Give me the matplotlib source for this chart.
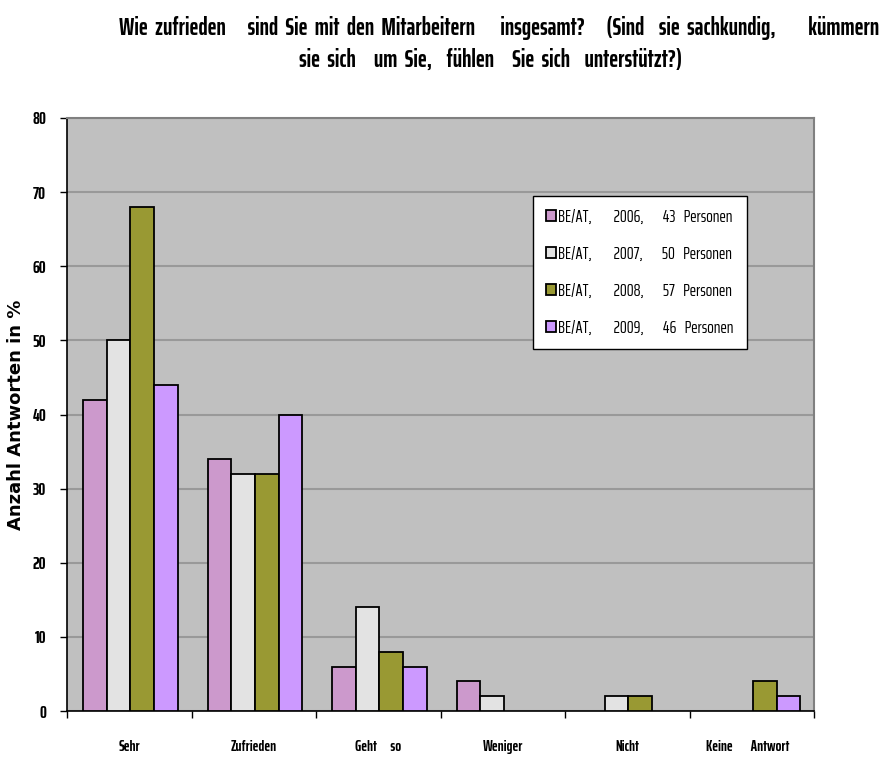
import matplotlib
matplotlib.use("Agg")
import matplotlib.pyplot as plt
from matplotlib.patches import Patch
import numpy as np

categories = ["Sehr", "Zufrieden", "Geht      so", "Weniger", "Nicht", "Keine        Antwort    "]
series_labels = ["BE/AT,        2006,       43   Personen",
                 "BE/AT,        2007,       50   Personen",
                 "BE/AT,        2008,       57   Personen",
                 "BE/AT,        2009,       46   Personen"]
v2006 = [42, 34, 6, 4, 0, 0]
v2007 = [50, 32, 14, 2, 2, 0]
v2008 = [68, 32, 8, 0, 2, 4]
v2009 = [44, 40, 6, 0, 0, 2]
colors = ["#CC99CC", "#E3E3E3", "#999933", "#CC99FF"]
yticks = [0, 10, 20, 30, 40, 50, 60, 70, 80]

narrow = ["Saira ExtraCondensed", "Roboto Condensed", "DejaVu Sans"]

fig = plt.figure(figsize=(8.85, 7.58), dpi=100)
ax = fig.add_axes([67/885, 1-711/758, (814-67)/885, (711-118)/758])
ax.set_facecolor("#C0C0C0")

x = np.arange(len(categories))
w = 0.19
allv = [v2006, v2007, v2008, v2009]
for i, (vals, c) in enumerate(zip(allv, colors)):
    xs = x + (i - 1.5) * w + 0.01
    mask = np.array(vals) > 0
    ax.bar(xs[mask], np.array(vals)[mask], width=w, color=c, edgecolor="black",
           linewidth=1.3, zorder=3)

ax.set_xlim(-0.5, len(categories) - 0.5)
ax.set_ylim(0, 80)
ax.set_yticks(yticks)
ax.yaxis.grid(True, color="#999999", linewidth=1.5, zorder=1)
ax.set_axisbelow(True)

ax.set_xticks(np.arange(len(categories) + 1) - 0.5)
ax.set_xticklabels([])
ax.set_xticks(x, minor=True)
ax.set_xticklabels(categories, minor=True, fontfamily=narrow, fontweight="bold", fontsize=11)
ax.tick_params(axis="x", which="minor", length=0, pad=21)
ax.tick_params(axis="x", which="major", length=5, width=1, color="black", direction="out")
ax.tick_params(axis="y", length=5, width=1, direction="out", pad=10)
for lab in ax.get_yticklabels():
    lab.set_fontfamily(narrow)
    lab.set_fontweight("bold")
    lab.set_fontsize(12.5)

for s in ["top", "right"]:
    ax.spines[s].set_color("#808080")
    ax.spines[s].set_linewidth(1.5)
ax.spines["left"].set_color("black")
ax.spines["bottom"].set_color("black")
ax.spines["left"].set_linewidth(1.2)
ax.spines["bottom"].set_linewidth(1.2)

ax.set_ylabel("Anzahl Antworten in %", fontfamily=["DejaVu Sans"],
              fontweight="bold", fontsize=13)
ax.yaxis.set_label_coords(-0.056, 0.5)

fig.text(0.564, 1-28/758, "Wie  zufrieden      sind  Sie  mit  den  Mitarbeitern       insgesamt?      (Sind    sie  sachkundig,         kümmern",
         ha="center", va="center", fontfamily=narrow, fontweight="bold", fontsize=17.2)
fig.text(0.554, 1-60/758, "sie  sich     um  Sie,    fühlen     Sie  sich    unterstützt?)",
         ha="center", va="center", fontfamily=narrow, fontweight="bold", fontsize=17.2)

handles = [Patch(facecolor=c, edgecolor="black", linewidth=1.3) for c in colors]
leg = ax.legend(handles, series_labels, loc="upper left",
                bbox_to_anchor=(533/885, 1-196/758), bbox_transform=fig.transFigure,
                prop={"family": narrow, "size": 12.5}, frameon=True, fancybox=False,
                edgecolor="black", framealpha=1, handlelength=0.6, handleheight=0.6,
                handletextpad=0.1, labelspacing=1.2, borderpad=0.75, borderaxespad=0)
leg.get_frame().set_linewidth(1.0)
leg.set_zorder(5)

fig.savefig("out.png", dpi=100, facecolor="white")
